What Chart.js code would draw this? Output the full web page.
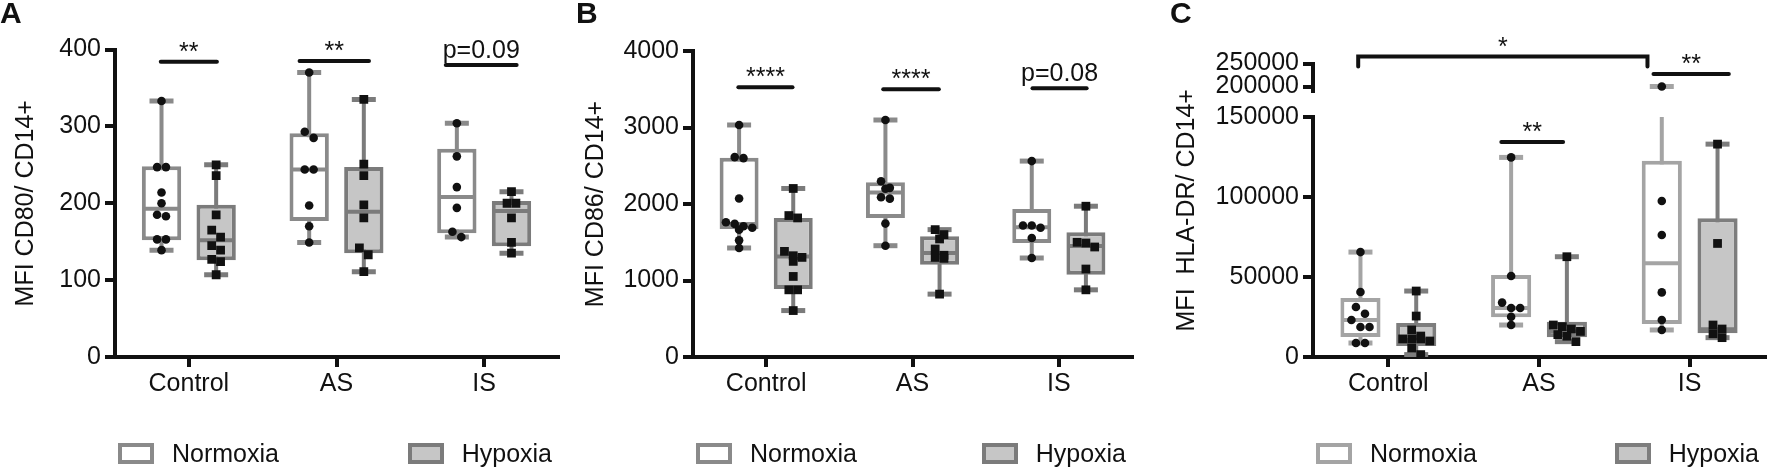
<!DOCTYPE html>
<html>
<head>
<meta charset="utf-8">
<script src="https://cdn.jsdelivr.net/npm/chart.js@4.4.1/dist/chart.umd.min.js"></script>
<style>
  body { margin: 0; width: 1787px; height: 472px; background: #fff; position: relative; overflow: hidden;
         font-family: "Liberation Sans", Arial, Helvetica, sans-serif; }
  .panel { position: absolute; top: 0; height: 472px; }
  .legend { position: absolute; top: 441px; display: flex; justify-content: space-between; font-size: 25px; color: #111; }
  .legend .item { display: flex; align-items: center; height: 24px; }
  .legend .swatch { width: 28px; height: 13px; border: 4px solid #888; margin-right: 18px; }
</style>
</head>
<body>
<div class="panel" style="left:0px;width:580px"><canvas id="chartA"></canvas></div>
<div class="panel" style="left:576px;width:578px"><canvas id="chartB"></canvas></div>
<div class="panel" style="left:1170px;width:617px"><canvas id="chartC"></canvas></div>
<script>
const CATEGORIES = ["Control", "AS", "IS"];
const SERIES = ["Normoxia", "Hypoxia"];

// box stats are [min, q1, median, q3, max] per category

// A: MFI CD80/ CD14+
const A_TICKS = [0, 100, 200, 300, 400];
const A_NORMOXIA_BOX = [[139, 152, 193, 248, 333], [149, 177, 244, 291, 370], [156, 161, 208, 271, 304]];
const A_HYPOXIA_BOX = [[107, 126, 152, 198, 250], [111, 135, 189, 247, 335], [135, 144, 190, 203, 215]];
const A_NORMOXIA_PTS = [
  [333, 247, 247, 214, 200, 185, 183, 153, 153, 139],
  [370, 293, 285, 244, 244, 197, 170, 149],
  [304, 261, 221, 194, 163, 156]
];
const A_HYPOXIA_PTS = [
  [250, 236, 185, 165, 156, 145, 139, 127, 124, 107],
  [335, 251, 236, 198, 181, 142, 133, 111],
  [215, 200, 200, 181, 149, 135]
];
const A_SIG = [
  { from: -0.19, to: 0.19, y: 384, label: "**" },
  { from: 0.75, to: 1.22, y: 385, label: "**" },
  { from: 1.74, to: 2.22, y: 380, label: "p=0.09" }
];

// B: MFI CD86/ CD14+
const B_TICKS = [0, 1000, 2000, 3000, 4000];
const B_NORMOXIA_BOX = [[1425, 1674, 1740, 2605, 3033], [1455, 1818, 2150, 2285, 3098], [1294, 1491, 1696, 1936, 2561]];
const B_HYPOXIA_BOX = [[607, 888, 1315, 1818, 2203], [822, 1206, 1360, 1577, 1665], [878, 1075, 1450, 1630, 1971]];
const B_NORMOXIA_PTS = [
  [3033, 2613, 2600, 2072, 1761, 1740, 1709, 1690, 1665, 1525, 1425],
  [3098, 2298, 2211, 2200, 2088, 2070, 1744, 1455],
  [2561, 1718, 1718, 1690, 1556, 1294]
];
const B_HYPOXIA_PTS = [
  [2203, 1849, 1818, 1381, 1324, 1302, 1250, 1053, 878, 878, 607],
  [1665, 1600, 1543, 1412, 1330, 1302, 1290, 822],
  [1971, 1499, 1490, 1438, 1150, 878]
];
const B_SIG = [
  { from: -0.19, to: 0.18, y: 3527, label: "****" },
  { from: 0.8, to: 1.18, y: 3500, label: "****" },
  { from: 1.82, to: 2.19, y: 3513, label: "p=0.08" }
];

// C: MFI HLA-DR/ CD14+ (broken axis above 150000)
const C_TICKS = [0, 50000, 100000, 150000];
const C_TICKS_TOP = [200000, 250000];
const C_NORMOXIA_BOX = [[8750, 12500, 23100, 36900, 65600], [20000, 24800, 30600, 51250, 124800], [16900, 20600, 58600, 122700, 200000]];
const C_HYPOXIA_BOX = [[1500, 6900, 10600, 21250, 41250], [9600, 12300, 16000, 22000, 62700], [12100, 14800, 17300, 86700, 133100]];
const C_NORMOXIA_PTS = [
  [65600, 40600, 31250, 27000, 23100, 18750, 18750, 8750, 8750],
  [124800, 50600, 34000, 30600, 30600, 25200, 20000],
  [200000, 97500, 76250, 40400, 23100, 16900]
];
const C_HYPOXIA_PTS = [
  [41250, 25600, 16900, 13100, 11300, 11300, 11300, 10000, 5600, 1500],
  [62700, 20000, 19000, 17500, 16000, 14000, 13000, 9600],
  [133100, 71000, 20000, 17500, 14500, 12100]
];
const C_SIG = [
  { from: -0.2, to: 1.72, y: 265000, axis: "yTop", label: "*", drop: 10 },
  { from: 1.76, to: 2.26, y: 227200, axis: "yTop", label: "**" },
  { from: 0.75, to: 1.16, y: 134400, axis: "y", label: "**" }
];

const FONT = '"Liberation Sans", Arial, Helvetica, sans-serif';
const INK = "#111111";

// put points with close values side by side (like the dot plots in the original)
function spread(values, tol, step) {
  const order = values.map((v, i) => i).sort((a, b) => values[b] - values[a]);
  const offs = new Array(values.length).fill(0);
  let i = 0;
  while (i < order.length) {
    let j = i;
    while (j + 1 < order.length && values[order[i]] - values[order[j + 1]] <= tol) j++;
    const n = j - i + 1;
    for (let k = 0; k < n; k++) offs[order[i + k]] = (k - (n - 1) / 2) * step;
    i = j + 1;
  }
  return offs;
}

// brackets + stars / p values
const sigPlugin = {
  id: "sig",
  afterDraw(chart, args, opts) {
    const { ctx, scales } = chart;
    ctx.save();
    ctx.strokeStyle = INK;
    ctx.fillStyle = INK;
    ctx.lineWidth = 4;
    ctx.lineCap = "round";
    ctx.font = "25px " + FONT;
    ctx.textAlign = "center";
    ctx.textBaseline = "alphabetic";
    (opts.marks || []).forEach(m => {
      const ys = scales[m.axis || "y"];
      const x0 = scales.x.getPixelForValue(m.from);
      const x1 = scales.x.getPixelForValue(m.to);
      const y = ys.getPixelForValue(m.y);
      ctx.beginPath();
      if (m.drop) {
        ctx.moveTo(x0, y + m.drop);
        ctx.lineTo(x0, y);
        ctx.lineTo(x1, y);
        ctx.lineTo(x1, y + m.drop);
      } else {
        ctx.moveTo(x0, y);
        ctx.lineTo(x1, y);
      }
      ctx.stroke();
      const lift = m.label.startsWith("p") ? 7 : 2;
      ctx.fillText(m.label, (x0 + x1) / 2, y - lift);
    });
    ctx.restore();
  }
};

function tickFont() { return { family: FONT, size: 25 }; }

function yScale(ticks, extra) {
  return Object.assign({
    type: "linear",
    position: "left",
    min: ticks[0],
    max: ticks[ticks.length - 1],
    afterBuildTicks: s => { s.ticks = ticks.map(v => ({ value: v })); },
    ticks: { font: tickFont(), color: INK, padding: 4, autoSkip: false, callback: v => String(v) },
    grid: { display: true, drawOnChartArea: false, drawTicks: true, tickLength: 10, tickWidth: 4, lineWidth: 4, color: INK },
    border: { display: true, color: INK, width: 4 }
  }, extra);
}

function buildPanel(p) {
  const datasets = [];
  const groups = [
    { name: SERIES[0], box: p.normBox, pts: p.normPts, dx: -0.185, marker: "circle", r: 4.3, edge: p.normEdge, fill: "#ffffff" },
    { name: SERIES[1], box: p.hypBox, pts: p.hypPts, dx: 0.185, marker: "rect", r: 6.2, edge: p.hypEdge, fill: "#c6c6c6" }
  ];
  const brk = p.breakAt || Infinity;
  const axisOf = v => (v > brk ? "yTop" : "y");

  groups.forEach(g => {
    const pts = [];
    g.pts.forEach((vals, i) => {
      const offs = spread(vals, p.tol, 0.06);
      vals.forEach((v, k) => pts.push({ x: i + g.dx + offs[k], y: v }));
    });
    const caps = [];
    g.box.forEach((b, i) => {
      caps.push({ x: i + g.dx, y: b[0] });
      caps.push({ x: i + g.dx, y: b[4] });
    });
    ["y", "yTop"].forEach(ax => {
      const d = pts.filter(q => axisOf(q.y) === ax);
      if (d.length) datasets.push({
        type: "scatter", order: 0, yAxisID: ax, data: d,
        pointStyle: g.marker, pointRadius: g.r, backgroundColor: INK, borderColor: INK, borderWidth: 0
      });
      const c = caps.filter(q => axisOf(q.y) === ax);
      if (c.length) datasets.push({
        type: "scatter", order: 2, yAxisID: ax, data: c,
        pointStyle: "line", pointRadius: 12, borderColor: g.edge, borderWidth: 5
      });
    });
    // median line
    datasets.push({
      type: "scatter", order: 1, yAxisID: "y",
      data: g.box.map((b, i) => ({ x: i + g.dx, y: b[2] })),
      pointStyle: "line", pointRadius: 18, borderColor: g.edge, borderWidth: 4
    });
    // box q1..q3
    datasets.push({
      type: "bar", label: g.name, order: 3, yAxisID: "y", grouped: false,
      data: g.box.map((b, i) => ({ x: i + g.dx, y: [b[1], b[3]] })),
      backgroundColor: g.fill, borderColor: g.edge, borderWidth: 4, borderSkipped: false
    });
    // whisker min..max
    datasets.push({
      type: "bar", order: 4, yAxisID: "y", grouped: false, maxBarThickness: 4,
      data: g.box.map((b, i) => ({ x: i + g.dx, y: [b[0], Math.min(b[4], brk)] })),
      backgroundColor: g.edge, borderWidth: 0
    });
  });

  const scales = {
    x: {
      type: "linear", min: -0.5, max: 2.5, offset: false,
      afterBuildTicks: s => { s.ticks = CATEGORIES.map((c, i) => ({ value: i })); },
      afterFit: s => { s.height = 45; },
      ticks: { callback: v => CATEGORIES[v], font: tickFont(), color: INK, padding: 2, maxRotation: 0, autoSkip: false },
      grid: { display: true, drawOnChartArea: false, drawTicks: true, tickLength: 10, tickWidth: 4, lineWidth: 4, color: INK, offset: false },
      border: { display: true, color: INK, width: 4 }
    }
  };

  if (p.breakAt) {
    const h = p.bottom - p.top;
    const topPx = p.topPx, gapPx = p.gapPx;
    scales.yTitle = {
      type: "linear", position: "left", weight: 10,
      afterFit: s => { s.width = p.titleWidth; },
      ticks: { display: false }, grid: { display: false }, border: { display: false },
      title: { display: true, text: p.yTitle, font: { family: FONT, size: 25 }, color: INK, padding: { top: p.titlePad, bottom: 0 } }
    };
    scales.yTop = yScale(p.ticksTop, {
      min: p.topMin, stack: "c", stackWeight: topPx, weight: 3,
      afterFit: s => { s.width = p.yWidth - p.titleWidth; }
    });
    scales.yGap = {
      type: "linear", position: "left", stack: "c", stackWeight: gapPx, weight: 2,
      afterFit: s => { s.width = p.yWidth - p.titleWidth; },
      ticks: { display: false }, grid: { display: false }, border: { display: false }
    };
    scales.y = yScale(p.ticks, {
      stack: "c", stackWeight: h - topPx - gapPx, weight: 1,
      afterFit: s => { s.width = p.yWidth - p.titleWidth; }
    });
  } else {
    scales.y = yScale(p.ticks, {
      afterFit: s => { s.width = p.yWidth; },
      title: { display: true, text: p.yTitle, font: { family: FONT, size: 25 }, color: INK, padding: { top: p.titlePad, bottom: 0 } }
    });
  }

  const chart = new Chart(document.getElementById(p.canvas), {
    type: "scatter",
    data: { datasets },
    options: {
      responsive: true,
      maintainAspectRatio: false,
      animation: false,
      events: [],
      layout: { padding: { left: 0, right: p.padRight, top: 0, bottom: 472 - p.bottom - 45 } },
      scales,
      plugins: {
        legend: { display: false },
        tooltip: { enabled: false },
        title: {
          display: true, text: p.letter, align: "start", color: INK,
          font: { family: FONT, size: 30, weight: "bold", lineHeight: 1 },
          padding: { top: 0, bottom: p.top - 30 }
        },
        sig: { marks: p.sig }
      }
    },
    plugins: [sigPlugin]
  });

  // HTML legend spread across the plot width
  const items = Chart.defaults.plugins.legend.labels.generateLabels(chart).filter(it => SERIES.includes(it.text));
  const lg = document.createElement("div");
  lg.className = "legend";
  lg.style.left = (p.left + chart.chartArea.left + 3) + "px";
  lg.style.width = (chart.chartArea.right - chart.chartArea.left - 9) + "px";
  items.forEach(it => {
    const el = document.createElement("div");
    el.className = "item";
    const sw = document.createElement("span");
    sw.className = "swatch";
    sw.style.background = it.fillStyle;
    sw.style.borderColor = it.strokeStyle;
    const tx = document.createElement("span");
    tx.textContent = it.text;
    el.appendChild(sw);
    el.appendChild(tx);
    lg.appendChild(el);
  });
  document.body.appendChild(lg);
  return chart;
}

buildPanel({
  canvas: "chartA", letter: "A", left: 0, yTitle: "MFI CD80/ CD14+",
  ticks: A_TICKS, normBox: A_NORMOXIA_BOX, hypBox: A_HYPOXIA_BOX,
  normPts: A_NORMOXIA_PTS, hypPts: A_HYPOXIA_PTS, sig: A_SIG,
  normEdge: "#8a8a8a", hypEdge: "#7b7b7b", tol: 9,
  yWidth: 115, titlePad: 11, padRight: 6, top: 49.5, bottom: 357
});

buildPanel({
  canvas: "chartB", letter: "B", left: 576, yTitle: "MFI CD86/ CD14+",
  ticks: B_TICKS, normBox: B_NORMOXIA_BOX, hypBox: B_HYPOXIA_BOX,
  normPts: B_NORMOXIA_PTS, hypPts: B_HYPOXIA_PTS, sig: B_SIG,
  normEdge: "#8a8a8a", hypEdge: "#7b7b7b", tol: 90,
  yWidth: 117, titlePad: 5, padRight: 6, top: 51, bottom: 357
});

buildPanel({
  canvas: "chartC", letter: "C", left: 1170, yTitle: "MFI  HLA-DR/ CD14+",
  ticks: C_TICKS, ticksTop: C_TICKS_TOP, topMin: 190000, breakAt: 150000,
  normBox: C_NORMOXIA_BOX, hypBox: C_HYPOXIA_BOX,
  normPts: C_NORMOXIA_PTS, hypPts: C_HYPOXIA_PTS, sig: C_SIG,
  normEdge: "#a4a4a4", hypEdge: "#7d7d7d", tol: 4500,
  yWidth: 143, titleWidth: 30, titlePad: 2, padRight: 3,
  top: 63.5, bottom: 357, topPx: 27.6, gapPx: 26
});
</script>
</body>
</html>
